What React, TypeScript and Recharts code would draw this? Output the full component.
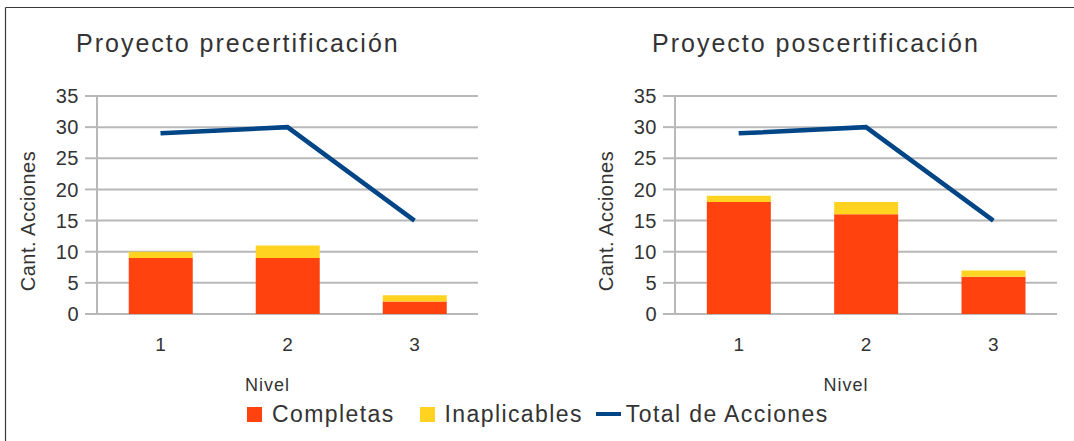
import React from 'react';
import { ComposedChart, Bar, Line, XAxis, YAxis, CartesianGrid, Label } from 'recharts';

// Niveles de certificación (categorías del eje X)
const niveles = ['1', '2', '3'];

// Proyecto precertificación
const preCompletas = [9, 9, 2];
const preInaplicables = [1, 2, 1];
const preTotal = [29, 30, 15];

// Proyecto poscertificación
const posCompletas = [18, 16, 6];
const posInaplicables = [1, 2, 1];
const posTotal = [29, 30, 15];

const yTicks = [0, 5, 10, 15, 20, 25, 30, 35];
const edgeTicks = [0, 1, 2, 3];

const seriesNames = ['Completas', 'Inaplicables', 'Total de Acciones'];
const seriesKinds = ['square', 'square', 'line'];

const COLORS = ['#ff420e', '#ffd320', '#004586'];
const GRID = '#b8b8b8';
const TEXT = '#333333';
const FONT = "'Liberation Sans', Arial, sans-serif";

type Row = { nivel: string; completas: number; inaplicables: number; total: number };

function buildRows(c: number[], i: number[], t: number[]): Row[] {
  return niveles.map((n, k) => ({ nivel: n, completas: c[k], inaplicables: i[k], total: t[k] }));
}

const preRows = buildRows(preCompletas, preInaplicables, preTotal);
const posRows = buildRows(posCompletas, posInaplicables, posTotal);

const renderYLabel = (props: any) => {
  const vb = props.viewBox;
  const x = vb.x + 11;
  const y = vb.y + vb.height / 2 + 16;
  return (
    <text
      x={x}
      y={y}
      transform={`rotate(-90 ${x} ${y})`}
      textAnchor="middle"
      dominantBaseline="central"
      fill={TEXT}
      fontSize={20}
      fontFamily={FONT}
      letterSpacing={0.5}
    >
      Cant. Acciones
    </text>
  );
};

const renderXLabel = (props: any) => {
  const vb = props.viewBox;
  const x = vb.x + vb.width / 2 - 20;
  const y = vb.y + 71;
  return (
    <text
      x={x}
      y={y}
      textAnchor="middle"
      dominantBaseline="central"
      fill={TEXT}
      fontSize={18}
      fontFamily={FONT}
      letterSpacing={1}
    >
      Nivel
    </text>
  );
};

function Panel({ rows, left, width, marginLeft, marginRight }: { rows: Row[]; left: number; width: number; marginLeft: number; marginRight: number }) {
  return (
    <div style={{ position: 'absolute', left, top: 0 }}>
      <ComposedChart
        width={width}
        height={441}
        data={rows}
        margin={{ top: 96, right: marginRight, bottom: 97, left: marginLeft }}
        barCategoryGap="25%"
      >
        <CartesianGrid
          xAxisId="cat"
          yAxisId="left"
          vertical={false}
          stroke={GRID}
          strokeWidth={2}
        />
        <XAxis
          xAxisId="edges"
          type="number"
          domain={[0, 3]}
          ticks={edgeTicks}
          allowDataOverflow
          tick={false}
          tickSize={11}
          height={0}
          axisLine={{ stroke: GRID, strokeWidth: 2 }}
          tickLine={{ stroke: GRID, strokeWidth: 2 }}
        />
        <XAxis
          xAxisId="cat"
          dataKey="nivel"
          axisLine={false}
          tickLine={false}
          tickSize={0}
          tickMargin={24}
          height={30}
          tick={{ fill: TEXT, fontSize: 19, fontFamily: FONT }}
        >
          <Label content={renderXLabel} />
        </XAxis>
        <YAxis
          yAxisId="left"
          width={80}
          domain={[0, 35]}
          ticks={yTicks}
          interval={0}
          tickSize={12}
          tickMargin={6}
          axisLine={{ stroke: GRID, strokeWidth: 2 }}
          tickLine={{ stroke: GRID, strokeWidth: 2 }}
          tick={{ fill: TEXT, fontSize: 20, fontFamily: FONT, letterSpacing: 0.5 }}
        >
          <Label content={renderYLabel} />
        </YAxis>
        <YAxis
          yAxisId="right"
          orientation="right"
          width={0}
          domain={[0, 35]}
          tick={false}
          tickLine={false}
          axisLine={{ stroke: GRID, strokeWidth: 2 }}
        />
        <Bar xAxisId="cat" yAxisId="left" dataKey="completas" name={seriesNames[0]} stackId="a" fill={COLORS[0]} isAnimationActive={false} />
        <Bar xAxisId="cat" yAxisId="left" dataKey="inaplicables" name={seriesNames[1]} stackId="a" fill={COLORS[1]} isAnimationActive={false} />
        <Line
          xAxisId="cat"
          yAxisId="left"
          type="linear"
          dataKey="total"
          name={seriesNames[2]}
          stroke={COLORS[2]}
          strokeWidth={4.5}
          dot={false}
          activeDot={false}
          isAnimationActive={false}
        />
      </ComposedChart>
    </div>
  );
}

function SharedLegend() {
  return (
    <div
      style={{
        position: 'absolute',
        left: 247,
        top: 400,
        display: 'flex',
        alignItems: 'center',
        fontFamily: FONT,
        fontSize: 23,
        letterSpacing: 1.4,
        color: TEXT,
        whiteSpace: 'nowrap',
        lineHeight: '28px',
      }}
    >
      {seriesNames.map((name, k) => (
        <div
          key={name}
          style={{
            display: 'flex',
            alignItems: 'center',
            marginLeft: k === 0 ? 0 : seriesKinds[k] === 'line' ? 13 : 25,
          }}
        >
          {seriesKinds[k] === 'line' ? (
            <span style={{ display: 'inline-block', width: 25, height: 4, background: COLORS[k], marginRight: 5 }} />
          ) : (
            <span style={{ display: 'inline-block', width: 15, height: 15, background: COLORS[k], marginRight: 10 }} />
          )}
          <span>{name}</span>
        </div>
      ))}
    </div>
  );
}

export default function App() {
  return (
    <div style={{ position: 'absolute', left: 0, top: 0, width: 1074, height: 441, background: '#ffffff', overflow: 'hidden' }}>
      <svg width={1074} height={441} style={{ position: 'absolute', left: 0, top: 0 }}>
        <line x1={5.5} y1={7.5} x2={1074} y2={7.5} stroke="#3a3a3a" strokeWidth={1.2} />
        <line x1={5.5} y1={7.5} x2={5.5} y2={441} stroke="#3a3a3a" strokeWidth={1.2} />
        <text x={76} y={52} fill={TEXT} fontSize={25} fontFamily={FONT} letterSpacing={2}>
          Proyecto precertificación
        </text>
        <text x={652} y={52} fill={TEXT} fontSize={25} fontFamily={FONT} letterSpacing={2}>
          Proyecto poscertificación
        </text>
      </svg>
      <Panel rows={preRows} left={0} width={530} marginLeft={17} marginRight={52} />
      <Panel rows={posRows} left={560} width={514} marginLeft={35} marginRight={17} />
      <SharedLegend />
    </div>
  );
}
